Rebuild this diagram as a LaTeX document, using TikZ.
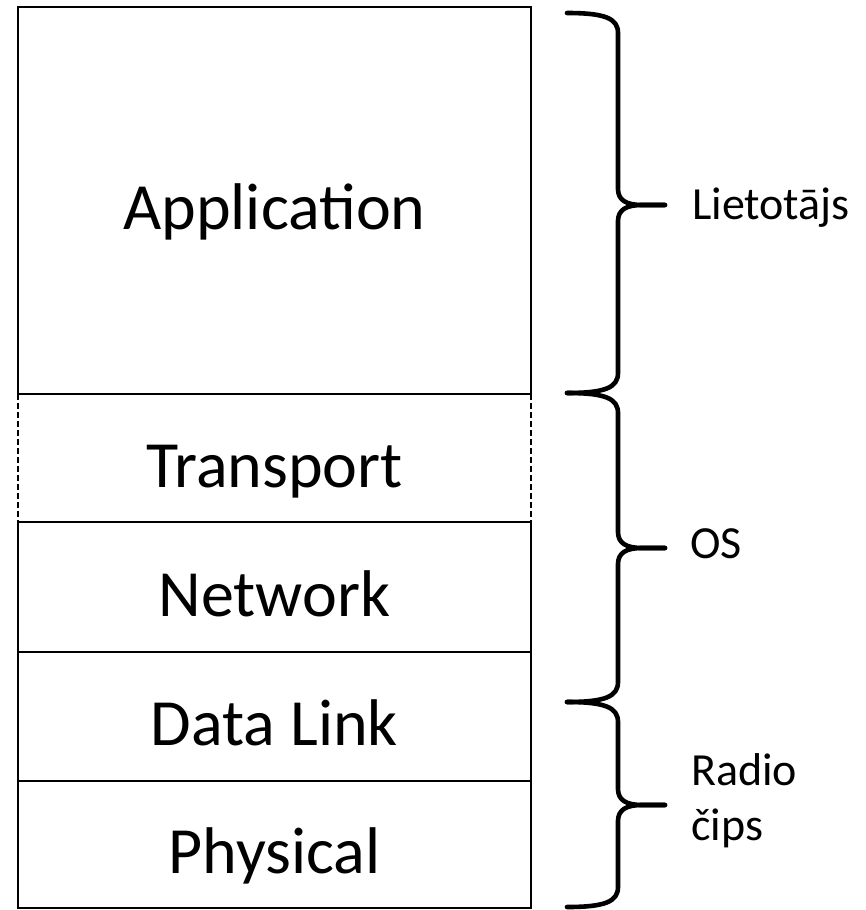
\documentclass[tikz,border=0pt]{standalone}
\usepackage{fontspec}
\setmainfont{Carlito}
\usetikzlibrary{positioning}

% right curly brace: top y, tip y, bottom y
\newcommand{\layerbrace}[3]{%
  \draw[bracepath] (567,#1) .. controls (604,#1) and (618,#1+5) .. (618,#1+20)
    -- (618,#2-16) .. controls (618,#2-5) and (626,#2) .. (642,#2) -- (665,#2);
  \draw[bracepath] (665,#2) -- (642,#2) .. controls (626,#2) and (618,#2+5) .. (618,#2+16)
    -- (618,#3-20) .. controls (618,#3-5) and (604,#3) .. (567,#3);
}

\begin{document}
\begin{tikzpicture}[x=1pt,y=-1pt,
    layer/.style={minimum width=513pt, inner sep=0pt, outer sep=0pt,
      line width=1.4pt, text height=58pt, text depth=0pt,
      font=\fontsize{66}{72}\selectfont},
    bracepath/.style={line width=4.6pt, line cap=round, line join=round},
    side/.style={anchor=base west, align=left, inner sep=0pt,
      font=\fontsize{46}{55}\selectfont}]
    \useasboundingbox (0,0) rectangle (865,910);

    % Layers:
    % stacked from the top, each one right below the last
    \node[layer, draw, minimum height=387pt] (app) at (274.5,200.5) {Application};
    \node[layer, minimum height=128pt, below=0pt of app] (transport) {Transport};
    \node[layer, draw, minimum height=130pt, below=0pt of transport] (network) {Network};
    \node[layer, draw, minimum height=129pt, below=0pt of network] (datalink) {Data Link};
    \node[layer, draw, minimum height=127pt, below=0pt of datalink] (physical) {Physical};
    % transport only has dashed sides
    \draw[line width=1.7pt, dash pattern=on 6pt off 3pt]
      (transport.north west) -- (transport.south west)
      (transport.north east) -- (transport.south east);

    % Braces:
    \layerbrace{13}{205}{393}
    \layerbrace{393}{548}{702}
    \layerbrace{702}{805}{907}

    \node[side] (lietotajs) at (692,219) {Lietotājs};
    \node[side] (os) at (690,558) {OS};
    \node[side, anchor=west] (radio) at (691,801) {Radio\\čips};
\end{tikzpicture}
\end{document}
